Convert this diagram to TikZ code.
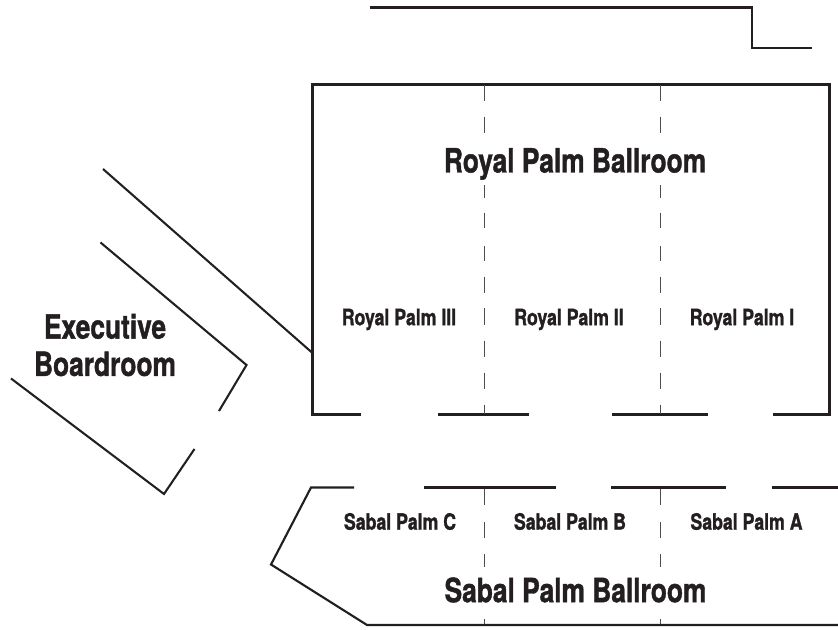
\documentclass[tikz,border=0pt]{standalone}
\usepackage{fontspec}
\setmainfont{TeX Gyre Heros}
\newfontfamily\heavy[FakeBold=1.4]{TeX Gyre Heros Bold}
\definecolor{ink}{HTML}{231F20}
\tikzset{
  wall/.style={draw=ink,line width=1.6pt,line cap=butt,line join=miter},
  thinwall/.style={wall,line width=1.55pt},
  part/.style={draw=ink!80,line width=0.9pt},
  big/.style={text=ink,font=\fontsize{25}{28}\heavy,inner sep=0pt,align=center,xscale=0.79},
  small/.style={text=ink,font=\fontsize{16.8}{18}\heavy,inner sep=0pt,xscale=0.79},
}
\begin{document}
\begin{tikzpicture}[x=0.75pt,y=-0.75pt]
\useasboundingbox (0,0) rectangle (838,630);
\coordinate (t1) at (370,7.5); \coordinate (t2) at (752,7.5); \coordinate (t3) at (752,48); \coordinate (t4) at (812,48);
\draw[wall] (t1)--(t2)--(t3)--(t4);
\coordinate (r1) at (361,414.5); \coordinate (r2) at (312.5,414.5); \coordinate (r3) at (312.5,84.5); \coordinate (r4) at (829.5,84.5); \coordinate (r5) at (829.5,414.5); \coordinate (r6) at (773,414.5);
\draw[wall] (r1)--(r2)--(r3)--(r4)--(r5)--(r6);
\coordinate (ra) at (438,414.5); \coordinate (rb) at (529,414.5);
\coordinate (rc) at (612,414.5); \coordinate (rd) at (708,414.5);
\draw[wall] (ra)--(rb);
\draw[wall] (rc)--(rd);
\foreach \x in {484.5,660.5}{
  \foreach \a/\b in {85/101,117/133,185/198,213/228,246/261,277/293,308/325,341/357,373/389,405/414}{
    \draw[part] (\x,\a)--(\x,\b);
  }
  \foreach \a/\b in {488/505,522/538,554/567,619/625}{
    \draw[part] (\x,\a)--(\x,\b);
  }
}
\coordinate (s1) at (354,487.5); \coordinate (s2) at (311,487.5); \coordinate (s3) at (271,564.5); \coordinate (s4) at (367,625); \coordinate (s5) at (838,625);
\draw[wall] (s1)--(s2)--(s3)--(s4)--(s5);
\coordinate (sa) at (424,487.5); \coordinate (sb) at (556,487.5);
\coordinate (sc) at (611,487.5); \coordinate (sd) at (726,487.5);
\coordinate (se) at (772,487.5); \coordinate (sf) at (838,487.5);
\draw[wall] (sa)--(sb);
\draw[wall] (sc)--(sd);
\draw[wall] (se)--(sf);
\coordinate (b1) at (103,169); \coordinate (b2) at (312.5,353);
\draw[thinwall] (b1)--(b2);
\coordinate (c1) at (100.5,242.5); \coordinate (c2) at (246.5,365); \coordinate (c3) at (219,411);
\draw[thinwall] (c1)--(c2)--(c3);
\coordinate (d1) at (11,378.5); \coordinate (d2) at (164,494); \coordinate (d3) at (194.5,449);
\draw[thinwall] (d1)--(d2)--(d3);
\node[big] (royal) at (575,164) {Royal Palm Ballroom};
\node[big] (sabal) at (575.5,590) {Sabal Palm Ballroom};
\node[big] (exec) at (105,345) {Executive\\Boardroom};
\node[small] (r3l) at (399,319.5) {Royal Palm III};
\node[small] (r2l) at (569,319.5) {Royal Palm II};
\node[small] (r1l) at (742,319.5) {Royal Palm I};
\node[small] (s3l) at (400,521.5) {Sabal Palm C};
\node[small] (s2l) at (570,521.5) {Sabal Palm B};
\node[small] (s1l) at (746.5,521.5) {Sabal Palm A};
\end{tikzpicture}
\end{document}
